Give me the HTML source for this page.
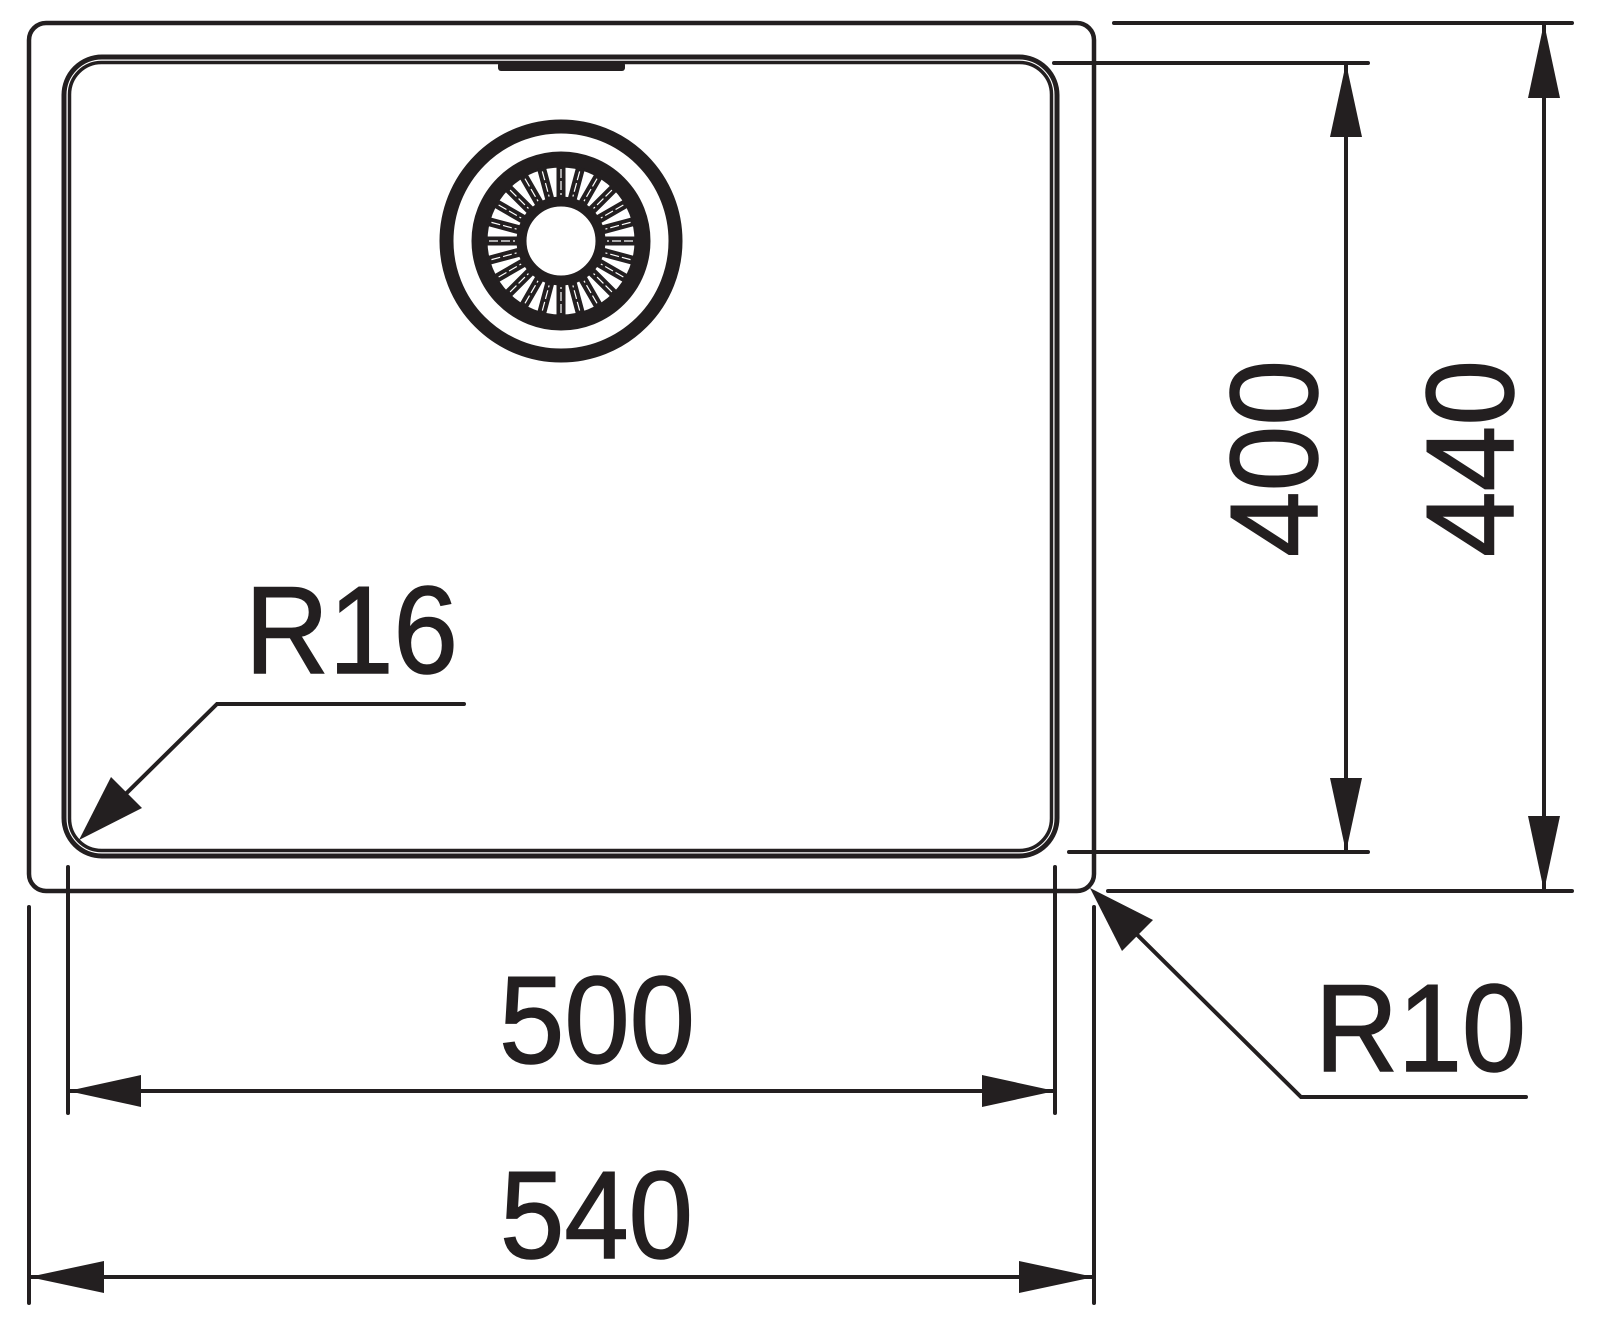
<!DOCTYPE html>
<html><head><style>html,body{margin:0;padding:0;background:#fff}svg{display:block}</style></head>
<body>
<svg width="1600" height="1329" viewBox="0 0 1600 1329" xmlns="http://www.w3.org/2000/svg">
<defs>
<g id="spoke"><rect x="-4.5" y="-76" width="9" height="36" fill="#231f20"/><line x1="0" y1="-72" x2="0" y2="-46" stroke="#fff" stroke-width="1.2" stroke-dasharray="9,3"/></g>
</defs>
<g fill="none" stroke="#231f20">
<rect x="29" y="23" width="1065" height="868" rx="17" stroke-width="4.5"/>
<rect x="64" y="57" width="993" height="799" rx="38" stroke-width="5"/>
<rect x="69.5" y="62.5" width="982" height="788" rx="32" stroke-width="3.5"/>
<circle cx="561" cy="241" r="114.5" stroke-width="14"/>
<circle cx="561" cy="241" r="81.5" stroke-width="16"/>
<circle cx="561" cy="241" r="39.5" stroke-width="10"/>
</g>
<rect x="498" y="62" width="127" height="9" rx="3" fill="#231f20"/>
<g transform="translate(561,241)">
<use href="#spoke" transform="rotate(0)"/><use href="#spoke" transform="rotate(15)"/><use href="#spoke" transform="rotate(30)"/><use href="#spoke" transform="rotate(45)"/><use href="#spoke" transform="rotate(60)"/><use href="#spoke" transform="rotate(75)"/><use href="#spoke" transform="rotate(90)"/><use href="#spoke" transform="rotate(105)"/><use href="#spoke" transform="rotate(120)"/><use href="#spoke" transform="rotate(135)"/><use href="#spoke" transform="rotate(150)"/><use href="#spoke" transform="rotate(165)"/><use href="#spoke" transform="rotate(180)"/><use href="#spoke" transform="rotate(195)"/><use href="#spoke" transform="rotate(210)"/><use href="#spoke" transform="rotate(225)"/><use href="#spoke" transform="rotate(240)"/><use href="#spoke" transform="rotate(255)"/><use href="#spoke" transform="rotate(270)"/><use href="#spoke" transform="rotate(285)"/><use href="#spoke" transform="rotate(300)"/><use href="#spoke" transform="rotate(315)"/><use href="#spoke" transform="rotate(330)"/><use href="#spoke" transform="rotate(345)"/>
</g>
<g stroke="#231f20" stroke-width="4" fill="none" stroke-linecap="round">
<line x1="68" y1="867" x2="68" y2="1113"/>
<line x1="1055" y1="867" x2="1055" y2="1113"/>
<line x1="29" y1="907" x2="29" y2="1303"/>
<line x1="1094" y1="907" x2="1094" y2="1303"/>
<line x1="1054" y1="63" x2="1368" y2="63"/>
<line x1="1069" y1="852" x2="1368" y2="852"/>
<line x1="1114" y1="23" x2="1572" y2="23"/>
<line x1="1108" y1="891" x2="1572" y2="891"/>
<line x1="70" y1="1091" x2="1053" y2="1091"/>
<line x1="31" y1="1277" x2="1092" y2="1277"/>
<line x1="1346" y1="65" x2="1346" y2="850"/>
<line x1="1544" y1="25" x2="1544" y2="889"/>
<polyline points="464,704 217,704 85,834"/>
<polyline points="1526,1097 1301,1097 1095,893"/>
</g>
<g fill="#231f20">
<polygon points="68,1091 141,1075 141,1107"/>
<polygon points="1055,1091 982,1075 982,1107"/>
<polygon points="29,1277 104,1261 104,1293"/>
<polygon points="1094,1277 1019,1261 1019,1293"/>
<polygon points="1346,63 1330,137 1362,137"/>
<polygon points="1346,852 1330,778 1362,778"/>
<polygon points="1544,23 1528,98 1560,98"/>
<polygon points="1544,891 1528,816 1560,816"/>
<polygon points="79,840 111,777 142,808"/>
<polygon points="1090,888 1153,920 1122,951"/>
</g>
<g font-family="Liberation Sans, sans-serif" fill="#231f20" stroke="#231f20" stroke-width="1.5" font-size="124">
<text x="245" y="673" textLength="213" lengthAdjust="spacingAndGlyphs">R16</text>
<text x="1315" y="1071" textLength="211" lengthAdjust="spacingAndGlyphs">R10</text>
<text x="499" y="1063" textLength="196" lengthAdjust="spacingAndGlyphs">500</text>
<text x="500" y="1258" textLength="193" lengthAdjust="spacingAndGlyphs">540</text>
<text transform="translate(1317,557) rotate(-90)" textLength="197" lengthAdjust="spacingAndGlyphs">400</text>
<text transform="translate(1513,557) rotate(-90)" textLength="197" lengthAdjust="spacingAndGlyphs">440</text>
</g>
</svg>
</body></html>
